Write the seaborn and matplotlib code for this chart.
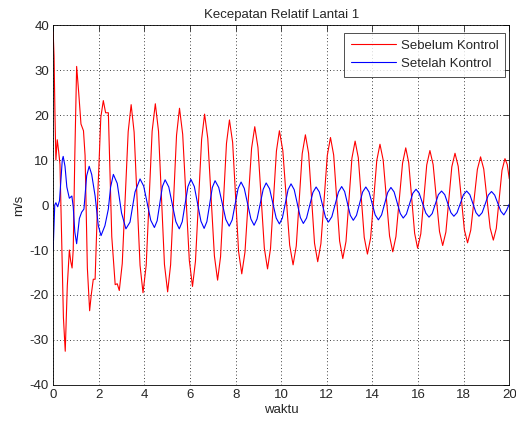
import numpy as np
import pandas as pd
import matplotlib
matplotlib.use('Agg')
import matplotlib.pyplot as plt
import seaborn as sns

# data (time in s, velocity in m/s)
t_sebelum = [0.0, 0.04, 0.08, 0.12, 0.18, 0.24, 0.30, 0.45, 0.53, 0.62, 0.71, 0.77, 0.83, 0.88,
             0.95, 1.03, 1.12, 1.22, 1.33, 1.40, 1.50, 1.60, 1.67, 1.76, 1.84, 1.97, 2.09, 2.20,
             2.30, 2.42, 2.57, 2.72, 2.81, 2.90,
             3.03, 3.29, 3.42, 3.55, 3.81, 3.94, 4.08, 4.34, 4.48, 4.62, 4.88, 5.02,
             5.15, 5.41, 5.54, 5.68, 5.97, 6.11, 6.24, 6.51, 6.64, 6.78, 7.07, 7.21,
             7.34, 7.60, 7.73, 7.87, 8.13, 8.27, 8.41, 8.70, 8.84, 8.98, 9.26, 9.40,
             9.53, 9.79, 9.92, 10.07, 10.37, 10.52, 10.66, 10.92, 11.06, 11.20, 11.46, 11.60,
             11.74, 12.02, 12.16, 12.30, 12.56, 12.70, 12.84, 13.10, 13.24, 13.38, 13.64, 13.78,
             13.92, 14.19, 14.33, 14.47, 14.75, 14.89, 15.03, 15.32, 15.46, 15.59, 15.85, 15.98,
             16.12, 16.38, 16.52, 16.66, 16.94, 17.08, 17.22, 17.48, 17.62, 17.76, 18.03, 18.17,
             18.31, 18.60, 18.74, 18.88, 19.16, 19.30, 19.43, 19.68, 19.81, 19.91, 20.0]
v_sebelum = [38.5, 33.0, 20.0, 10.0, 14.5, 12.0, 9.0, -25.0, -32.5, -18.0, -10.0, -12.5, -14.0, -10.0,
             11.0, 30.8, 25.0, 18.0, 16.5, 11.0, -14.0, -23.5, -20.0, -16.5, -16.5, 4.0, 19.5, 23.2,
             20.5, 20.5, -7.0, -17.7, -17.5, -19.0,
             -13.0, 16.3, 22.3, 16.2, -13.4, -19.5, -13.4, 16.4, 22.5, 16.4, -13.2, -19.3,
             -13.3, 15.5, 21.5, 15.7, -12.3, -18.1, -12.5, 14.6, 20.2, 14.8, -11.3, -16.7,
             -11.5, 13.7, 18.9, 13.9, -10.3, -15.3, -10.5, 12.6, 17.4, 12.8, -9.6, -14.2,
             -9.7, 12.0, 16.5, 12.1, -8.9, -13.3, -9.1, 11.4, 15.6, 11.5, -8.5, -12.6,
             -8.6, 11.0, 15.0, 11.1, -8.0, -11.9, -8.1, 10.4, 14.2, 10.5, -7.2, -10.9,
             -7.3, 9.9, 13.5, 10.0, -6.9, -10.4, -7.0, 9.3, 12.7, 9.4, -6.3, -9.6,
             -6.4, 8.9, 12.1, 9.0, -5.9, -9.0, -6.0, 8.5, 11.5, 8.6, -5.5, -8.4,
             -5.6, 7.9, 10.7, 8.0, -5.1, -7.8, -5.2, 7.7, 10.3, 9.0, 5.8]

t_setelah = [0.0, 0.07, 0.12, 0.20, 0.28, 0.40, 0.44, 0.52, 0.60, 0.71, 0.82, 0.88, 0.95, 1.03,
             1.15, 1.25, 1.35, 1.47, 1.58, 1.69, 1.84, 1.98, 2.10, 2.27, 2.42, 2.52, 2.64, 2.81,
             3.00, 3.19, 3.37, 3.59, 3.81,
             3.97, 4.28, 4.44, 4.56, 4.79, 4.91, 5.07, 5.38, 5.53, 5.66, 5.91, 6.04,
             6.19, 6.48, 6.62, 6.74, 6.98, 7.10, 7.26, 7.57, 7.72, 7.85, 8.11, 8.24,
             8.38, 8.67, 8.81, 8.94, 9.21, 9.34, 9.49, 9.78, 9.92, 10.05, 10.30, 10.43,
             10.57, 10.84, 10.97, 11.11, 11.39, 11.53, 11.67, 11.94, 12.07, 12.22, 12.51, 12.65,
             12.78, 13.03, 13.16, 13.30, 13.57, 13.71, 13.85, 14.12, 14.26, 14.40, 14.67, 14.81,
             14.95, 15.22, 15.35, 15.49, 15.77, 15.91, 16.05, 16.34, 16.48, 16.62, 16.89, 17.03,
             17.17, 17.44, 17.57, 17.71, 17.99, 18.13, 18.27, 18.54, 18.67, 18.81, 19.08, 19.22,
             19.36, 19.63, 19.76, 19.88, 20.0]
v_setelah = [-10.0, 0.0, 0.5, -0.4, 1.0, 10.0, 10.8, 8.6, 4.0, 1.5, 2.0, -0.4, -6.0, -8.6,
             -3.0, -1.6, -0.9, 6.5, 8.6, 6.8, 2.0, -4.6, -6.8, -4.6, -0.9, 4.0, 6.8, 4.8,
             -1.8, -5.3, -3.8, 2.9, 5.8,
             4.2, -3.4, -5.0, -3.5, 4.1, 5.6, 4.0, -3.7, -5.3, -3.7, 4.1, 5.7,
             4.1, -3.6, -5.2, -3.7, 3.9, 5.4, 3.9, -3.2, -4.7, -3.3, 3.7, 5.1,
             3.7, -3.1, -4.5, -3.1, 3.5, 4.9, 3.6, -2.9, -4.2, -2.9, 3.4, 4.7,
             3.4, -2.8, -4.1, -2.9, 2.8, 4.0, 2.9, -2.7, -3.8, -2.6, 2.9, 4.1,
             3.0, -2.3, -3.4, -2.3, 2.9, 4.0, 2.9, -2.2, -3.3, -2.2, 2.8, 3.9,
             2.9, -1.9, -2.9, -2.0, 2.6, 3.5, 2.6, -1.8, -2.7, -1.9, 2.3, 3.1,
             2.3, -1.7, -2.5, -1.7, 2.3, 3.1, 2.3, -1.7, -2.5, -1.7, 2.2, 3.0,
             2.2, -1.4, -2.2, -1.2, 0.2]

x_ticks = list(range(0, 21, 2))
y_ticks = list(range(-40, 41, 10))

sns.set_style('white')
plt.rcParams['font.family'] = ['Liberation Sans', 'DejaVu Sans']
plt.rcParams['axes.unicode_minus'] = False

fig = plt.figure(figsize=(5.16, 4.24), dpi=100)
ax = fig.add_axes([0.103, 0.092, 0.884, 0.849])

sns.lineplot(x=t_sebelum, y=v_sebelum, ax=ax, color='red', lw=0.8, sort=False,
             estimator=None, label='Sebelum Kontrol')
sns.lineplot(x=t_setelah, y=v_setelah, ax=ax, color='blue', lw=0.8, sort=False,
             estimator=None, label='Setelah Kontrol')

ax.set_xlim(0, 20)
ax.set_ylim(-40, 40)
ax.set_xticks(x_ticks)
ax.set_yticks(y_ticks)
ax.grid(True, color='black', linestyle=(0, (1, 3)), linewidth=0.6)
ax.tick_params(direction='in', length=4, top=True, right=True, labelsize=9.5, width=0.6, pad=3)
for s in ax.spines.values():
    s.set_color('black')
    s.set_linewidth(0.6)

ax.set_title('Kecepatan Relatif Lantai 1', fontsize=9.5, pad=5)
ax.set_xlabel('waktu', fontsize=9.5, labelpad=2)
ax.set_ylabel('m/s', fontsize=9.5, labelpad=3)

# legend box placed like the MATLAB one (top right, inset)
leg = ax.legend(loc='upper right', bbox_to_anchor=(0.979, 0.922), bbox_transform=fig.transFigure,
                fontsize=9.5, frameon=True, fancybox=False, edgecolor='black',
                borderaxespad=0.0, handlelength=3.4, labelspacing=0.45,
                borderpad=0.5, handletextpad=0.4)
leg.get_frame().set_linewidth(0.6)

fig.savefig('out.png', dpi=100, facecolor='white')
